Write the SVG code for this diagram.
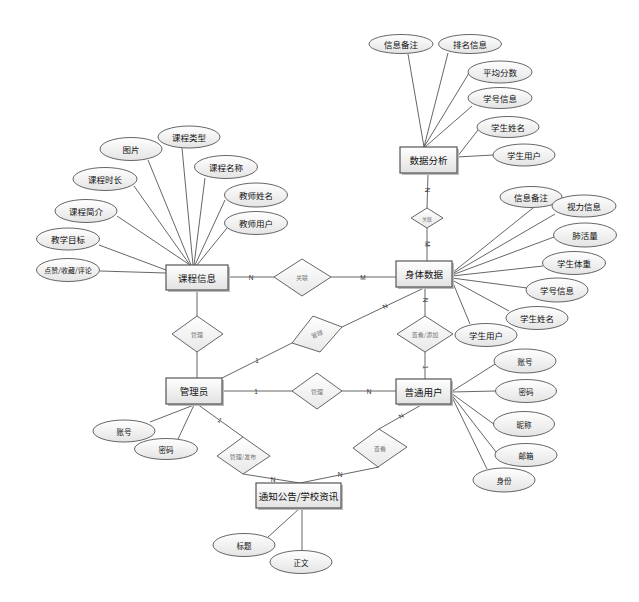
<svg xmlns="http://www.w3.org/2000/svg" width="639" height="602" viewBox="0 0 639 602">
<defs>
<linearGradient id="gE" x1="0" y1="0" x2="0" y2="1"><stop offset="0" stop-color="#ffffff"/><stop offset="1" stop-color="#e4e4e4"/></linearGradient>
<linearGradient id="gR" x1="0" y1="0" x2="0" y2="1"><stop offset="0" stop-color="#ffffff"/><stop offset="1" stop-color="#e2e2e2"/></linearGradient>
<linearGradient id="gD" x1="0" y1="0" x2="0" y2="1"><stop offset="0" stop-color="#ffffff"/><stop offset="1" stop-color="#e8e8e8"/></linearGradient>
</defs>
<style>
.ent rect{fill:url(#gR);stroke:#555;stroke-width:1.2}
.ent .sh{fill:#bbb;stroke:none}
.att ellipse{fill:url(#gE);stroke:#555;stroke-width:0.9}
.rel polygon{fill:url(#gD);stroke:#555;stroke-width:0.9}
text{font-family:"Noto Sans CJK SC","Noto Sans",sans-serif;text-anchor:middle;dominant-baseline:central;fill:#111}
.te{font-size:9.5px}
.ta{font-size:8.5px}
.ts{font-size:7.5px}
.tr{font-size:6px;fill:#777}
.lb{font-size:6.5px;fill:#333;font-family:"Liberation Sans",sans-serif}
#conn line,#conn polyline{stroke:#555;stroke-width:0.9;fill:none}
</style>
<rect width="639" height="602" fill="#ffffff"/>
<g id="conn">
<!-- 数据分析 attrs -->
<line x1="408" y1="54" x2="424" y2="147"/>
<line x1="448" y1="53" x2="424" y2="147"/>
<line x1="469" y1="73" x2="424" y2="147"/>
<line x1="472" y1="106" x2="425" y2="147"/>
<line x1="478" y1="130" x2="457" y2="157"/>
<line x1="493" y1="155" x2="457" y2="157"/>
<line x1="428" y1="173" x2="427" y2="208"/>
<line x1="427" y1="228" x2="427" y2="261"/>
<!-- 课程信息 attrs -->
<line x1="182" y1="148" x2="193" y2="265"/>
<line x1="148" y1="160" x2="191" y2="265"/>
<line x1="205" y1="178" x2="194" y2="265"/>
<line x1="134" y1="186" x2="190" y2="265"/>
<line x1="225" y1="200" x2="195" y2="265"/>
<line x1="117" y1="216" x2="190" y2="265"/>
<line x1="227" y1="228" x2="197" y2="265"/>
<line x1="99" y1="245" x2="166" y2="270"/>
<line x1="100" y1="271" x2="166" y2="273"/>
<!-- 身体数据 attrs -->
<line x1="452" y1="273" x2="533" y2="208"/>
<line x1="452" y1="274" x2="555" y2="214"/>
<line x1="452" y1="275" x2="554" y2="237"/>
<line x1="452" y1="276" x2="543" y2="266"/>
<line x1="452" y1="278" x2="527" y2="288"/>
<line x1="452" y1="280" x2="509" y2="311"/>
<line x1="453" y1="283" x2="470" y2="324"/>
<!-- relations -->
<line x1="228" y1="277" x2="274" y2="277"/>
<line x1="331" y1="277" x2="396" y2="277"/>
<line x1="197" y1="290" x2="197" y2="316"/>
<line x1="197" y1="352" x2="197" y2="378"/>
<line x1="222" y1="378" x2="292" y2="343"/>
<line x1="342" y1="327" x2="426" y2="287"/>
<line x1="425" y1="287" x2="425" y2="316"/>
<line x1="425" y1="352" x2="425" y2="379"/>
<line x1="222" y1="391" x2="292" y2="391"/>
<line x1="342" y1="391" x2="396" y2="391"/>
<line x1="197" y1="404" x2="243" y2="437"/>
<polyline points="243,474 300,483 379,467"/>
<line x1="379" y1="429" x2="423" y2="404"/>
<!-- 管理员 attrs -->
<line x1="194" y1="405" x2="150" y2="422"/>
<line x1="194" y1="405" x2="178" y2="439"/>
<!-- 普通用户 attrs -->
<line x1="451" y1="392" x2="495" y2="364"/>
<line x1="451" y1="392" x2="496" y2="391"/>
<line x1="451" y1="393" x2="495" y2="425"/>
<line x1="451" y1="394" x2="496" y2="452"/>
<line x1="451" y1="395" x2="487" y2="469"/>
<!-- 通知公告 attrs -->
<line x1="300" y1="508" x2="268" y2="537"/>
<line x1="302" y1="508" x2="302" y2="551"/>
<!-- cardinality labels -->
<text class="lb" x="251" y="277">N</text>
<text class="lb" x="363" y="277">M</text>
<text class="lb" x="257" y="360">1</text>
<text class="lb" x="385" y="306" transform="rotate(-27 385 306)">N</text>
<text class="lb" x="256" y="391">1</text>
<text class="lb" x="369" y="391">N</text>
<text class="lb" x="220" y="420" transform="rotate(35 220 420)">1</text>
<text class="lb" x="273" y="479">N</text>
<text class="lb" x="401" y="416" transform="rotate(-30 401 416)">N</text>
<text class="lb" x="340" y="474">N</text>
<text class="lb" x="427" y="190" transform="rotate(90 427 190)">N</text>
<text class="lb" x="427" y="244" transform="rotate(90 427 244)">M</text>
<text class="lb" x="425" y="300" transform="rotate(90 425 300)">N</text>
<text class="lb" x="425" y="367" transform="rotate(90 425 367)">1</text>
</g>
<!-- entities -->
<g id="e-shujufenxi" class="ent"><rect class="sh" x="402" y="149" width="57" height="26"/><rect x="400" y="147" width="57" height="26"/><text class="te" x="428.5" y="160">数据分析</text></g>
<g id="e-kecheng" class="ent"><rect class="sh" x="168" y="267" width="62" height="25"/><rect x="166" y="265" width="62" height="25"/><text class="te" x="197" y="277.5">课程信息</text></g>
<g id="e-shenti" class="ent"><rect class="sh" x="398" y="263" width="56" height="26"/><rect x="396" y="261" width="56" height="26"/><text class="te" x="424" y="274">身体数据</text></g>
<g id="e-admin" class="ent"><rect class="sh" x="168" y="380" width="56" height="26"/><rect x="166" y="378" width="56" height="26"/><text class="te" x="194" y="391">管理员</text></g>
<g id="e-user" class="ent"><rect class="sh" x="398" y="381" width="55" height="25"/><rect x="396" y="379" width="55" height="25"/><text class="te" x="423.5" y="391.5">普通用户</text></g>
<g id="e-notice" class="ent"><rect class="sh" x="258" y="485" width="85" height="25"/><rect x="256" y="483" width="85" height="25"/><text class="te" x="298.5" y="495.5">通知公告/学校资讯</text></g>
<!-- relationships -->
<g id="r-guanlian1" class="rel"><polygon points="427,208 443,218 427,228 411,218"/><text class="tr" x="427" y="218" style="font-size:5px">关联</text></g>
<g id="r-guanlian2" class="rel"><polygon points="302,259 331,277 302,296 274,277"/><text class="tr" x="302" y="277">关联</text></g>
<g id="r-guanli1" class="rel"><polygon points="197,316 223,334 197,352 172,334"/><text class="tr" x="197" y="334">管理</text></g>
<g id="r-guanli2" class="rel"><polygon points="292,343 313,316 342,327 320,352"/><text class="tr" x="317" y="334" transform="rotate(-20 317 334)">管理</text></g>
<g id="r-guanli3" class="rel"><polygon points="317,373 342,391 317,409 292,391"/><text class="tr" x="317" y="391">管理</text></g>
<g id="r-chakantianjia" class="rel"><polygon points="425,316 453,334 425,352 397,334"/><text class="tr" x="425" y="334">查看/添加</text></g>
<g id="r-guanlifabu" class="rel"><polygon points="243,437 270,456 243,474 217,456"/><text class="tr" x="243" y="456">管理/发布</text></g>
<g id="r-chakan" class="rel"><polygon points="379,429 407,447 378,467 353,448"/><text class="tr" x="380" y="448">查看</text></g>
<!-- attributes: 数据分析 -->
<g id="a-sf-beizhu" class="att"><ellipse cx="401" cy="44" rx="32" ry="9.5"/><text class="ta" x="401" y="44">信息备注</text></g>
<g id="a-sf-paiming" class="att"><ellipse cx="470" cy="44" rx="31.5" ry="9.5"/><text class="ta" x="470" y="44">排名信息</text></g>
<g id="a-sf-pingjun" class="att"><ellipse cx="500" cy="72" rx="32" ry="11"/><text class="ta" x="500" y="72">平均分数</text></g>
<g id="a-sf-xuehao" class="att"><ellipse cx="500" cy="98" rx="32" ry="10.5"/><text class="ta" x="500" y="98">学号信息</text></g>
<g id="a-sf-xingming" class="att"><ellipse cx="508" cy="127" rx="31" ry="10.5"/><text class="ta" x="508" y="127">学生姓名</text></g>
<g id="a-sf-yonghu" class="att"><ellipse cx="524" cy="155" rx="31" ry="11"/><text class="ta" x="524" y="155">学生用户</text></g>
<!-- attributes: 课程信息 -->
<g id="a-kc-leixing" class="att"><ellipse cx="189" cy="137" rx="31" ry="11"/><text class="ta" x="189" y="137">课程类型</text></g>
<g id="a-kc-tupian" class="att"><ellipse cx="131" cy="149" rx="31" ry="11.5"/><text class="ta" x="131" y="149">图片</text></g>
<g id="a-kc-mingcheng" class="att"><ellipse cx="226" cy="167" rx="31.5" ry="11.5"/><text class="ta" x="226" y="167">课程名称</text></g>
<g id="a-kc-shichang" class="att"><ellipse cx="105" cy="179" rx="32" ry="11.5"/><text class="ta" x="105" y="179">课程时长</text></g>
<g id="a-kc-jiaoshixm" class="att"><ellipse cx="256" cy="195" rx="31.5" ry="12"/><text class="ta" x="256" y="195">教师姓名</text></g>
<g id="a-kc-jianjie" class="att"><ellipse cx="86" cy="211" rx="31" ry="11.5"/><text class="ta" x="86" y="211">课程简介</text></g>
<g id="a-kc-jiaoshiyh" class="att"><ellipse cx="256" cy="223" rx="31.5" ry="11.5"/><text class="ta" x="256" y="223">教师用户</text></g>
<g id="a-kc-mubiao" class="att"><ellipse cx="68" cy="239" rx="31.5" ry="11"/><text class="ta" x="68" y="239">教学目标</text></g>
<g id="a-kc-dianzan" class="att"><ellipse cx="68" cy="270" rx="31.5" ry="11.5"/><text class="ta" x="68" y="270" style="font-size:7px">点赞/收藏/评论</text></g>
<!-- attributes: 身体数据 -->
<g id="a-st-beizhu" class="att"><ellipse cx="531" cy="197" rx="31" ry="10.5"/><text class="ta" x="531" y="197">信息备注</text></g>
<g id="a-st-shili" class="att"><ellipse cx="584" cy="206" rx="32" ry="11"/><text class="ta" x="584" y="206">视力信息</text></g>
<g id="a-st-feihuo" class="att"><ellipse cx="585" cy="235" rx="31.5" ry="12"/><text class="ta" x="585" y="235">肺活量</text></g>
<g id="a-st-tizhong" class="att"><ellipse cx="574" cy="263" rx="31.5" ry="11.5"/><text class="ta" x="574" y="263">学生体重</text></g>
<g id="a-st-xuehao" class="att"><ellipse cx="557" cy="290" rx="31" ry="12"/><text class="ta" x="557" y="290">学号信息</text></g>
<g id="a-st-xingming" class="att"><ellipse cx="537" cy="318" rx="31" ry="11.5"/><text class="ta" x="537" y="318">学生姓名</text></g>
<g id="a-st-yonghu" class="att"><ellipse cx="486" cy="335" rx="31" ry="11.5"/><text class="ta" x="486" y="335">学生用户</text></g>
<!-- attributes: 管理员 -->
<g id="a-ad-zhanghao" class="att"><ellipse cx="124" cy="431" rx="31" ry="11"/><text class="ts" x="124" y="431">账号</text></g>
<g id="a-ad-mima" class="att"><ellipse cx="166" cy="449" rx="31.5" ry="10.5"/><text class="ts" x="166" y="449">密码</text></g>
<!-- attributes: 普通用户 -->
<g id="a-us-zhanghao" class="att"><ellipse cx="525" cy="361" rx="31" ry="12"/><text class="ts" x="525" y="361">账号</text></g>
<g id="a-us-mima" class="att"><ellipse cx="526" cy="391" rx="30.5" ry="11.5"/><text class="ts" x="526" y="391">密码</text></g>
<g id="a-us-nicheng" class="att"><ellipse cx="524" cy="424" rx="30.5" ry="12.5"/><text class="ts" x="524" y="424">昵称</text></g>
<g id="a-us-youxiang" class="att"><ellipse cx="526" cy="455" rx="31" ry="11.5"/><text class="ts" x="526" y="455">邮箱</text></g>
<g id="a-us-shenfen" class="att"><ellipse cx="504" cy="480" rx="31" ry="12"/><text class="ts" x="504" y="480">身份</text></g>
<!-- attributes: 通知公告 -->
<g id="a-nt-biaoti" class="att"><ellipse cx="244" cy="545" rx="31" ry="11.5"/><text class="ts" x="244" y="545">标题</text></g>
<g id="a-nt-zhengwen" class="att"><ellipse cx="301" cy="562" rx="31" ry="11.5"/><text class="ts" x="301" y="562">正文</text></g>
</svg>
